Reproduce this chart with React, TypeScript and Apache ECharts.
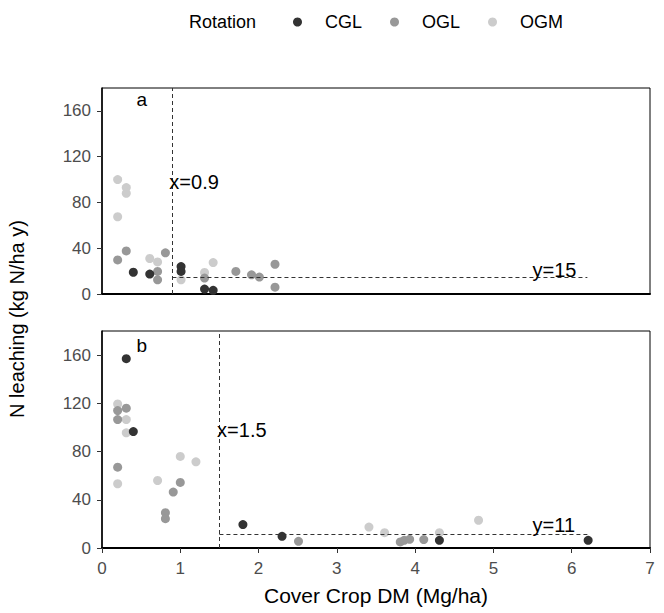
import React, { useEffect, useRef } from "react";
import * as echarts from "echarts";

// Data: [cover crop DM (Mg/ha), N leaching (kg N/ha y)]
const rotations = ["CGL", "OGL", "OGM"];
const colors: Record<string, string> = { CGL: "#333333", OGL: "#989898", OGM: "#CCCCCC" };

// Panel a
const cglA: [number, number][] = [
  [0.4, 19], [0.61, 17.4], [1.01, 24], [1.01, 19.7], [1.31, 4.3], [1.42, 3.2],
];
const oglA: [number, number][] = [
  [0.2, 29.8], [0.31, 37.6], [0.81, 36], [0.71, 19.7], [0.71, 12.4], [1.31, 13.9],
  [1.71, 19.7], [1.91, 16.8], [2.01, 14.8], [2.21, 26], [2.21, 6],
];
const ogmA: [number, number][] = [
  [0.2, 100], [0.31, 93], [0.31, 88], [0.2, 67.5], [0.61, 31], [0.71, 28],
  [1.01, 12.4], [1.31, 18.8], [1.42, 27.5],
];

// Panel b
const cglB: [number, number][] = [
  [0.31, 157], [0.4, 96.6], [1.8, 19.4], [2.3, 9.7], [4.31, 6.4], [6.21, 6.4],
];
const oglB: [number, number][] = [
  [0.31, 116], [0.2, 114], [0.2, 106.5], [0.2, 67], [1.0, 54.4], [0.91, 46.4],
  [0.81, 29.3], [0.81, 24.3], [2.51, 5.5], [3.81, 5], [3.86, 6.4], [3.93, 7.2], [4.11, 7],
];
const ogmB: [number, number][] = [
  [0.2, 119.5], [0.31, 106.5], [0.31, 95.5], [0.2, 53.3], [0.71, 56], [1.0, 76],
  [1.2, 71.5], [3.41, 17.4], [3.61, 12.7], [4.31, 12.7], [4.81, 23],
];

// Thresholds
const thresholdA = { x: 0.9, y: 15, xEnd: 6.2 };
const thresholdB = { x: 1.5, y: 11, xEnd: 6.2 };

const yTicks = [0, 40, 80, 120, 160];
const xTicks = [0, 1, 2, 3, 4, 5, 6, 7];

const FONT = "Liberation Sans, Arial, sans-serif";

export default function App() {
  const ref = useRef<HTMLDivElement>(null);
  useEffect(() => {
    if (!ref.current) return;
    const chart = echarts.init(ref.current, undefined, { renderer: "svg" });

    const panelData: Record<string, [number, number][]>[] = [
      { CGL: cglA, OGL: oglA, OGM: ogmA },
      { CGL: cglB, OGL: oglB, OGM: ogmB },
    ];
    const thresholds = [thresholdA, thresholdB];

    const series: any[] = [];
    [0, 1].forEach((p) => {
      ["OGM", "OGL", "CGL"].forEach((r) => {
        series.push({
          type: "scatter",
          name: r,
          xAxisIndex: p,
          yAxisIndex: p,
          data: panelData[p][r],
          symbol: "circle",
          symbolSize: 9,
          itemStyle: { color: colors[r], opacity: 1 },
          clip: false,
          z: 3,
        });
      });
      const t = thresholds[p];
      series.push({
        type: "scatter",
        name: "thr" + p,
        xAxisIndex: p,
        yAxisIndex: p,
        data: [],
        z: 2,
        markLine: {
          symbol: ["none", "none"],
          silent: true,
          label: { show: false },
          lineStyle: { color: "#333", type: [4, 3], width: 1 },
          data: [
            [{ coord: [t.x, 0] }, { coord: [t.x, 180] }],
            [{ coord: [t.x, t.y] }, { coord: [t.xEnd, t.y] }],
          ],
        },
        markPoint: {
          symbol: "circle",
          symbolSize: 0,
          silent: true,
          label: {
            show: true,
            position: "right",
            distance: 0,
            color: "#000",
            fontSize: 20,
            fontFamily: FONT,
          },
          data: [
            { coord: [p === 0 ? 0.86 : 1.47, 98], value: "x=" + t.x, label: { formatter: "x=" + t.x } },
            { coord: [5.5, p === 0 ? 21 : 19], value: "y=" + t.y, label: { formatter: "y=" + t.y } },
          ],
        },
      });
    });

    const yAxisCommon = (gi: number) => ({
      type: "value",
      gridIndex: gi,
      min: 0,
      max: 180,
      interval: 40,
      splitLine: { show: false },
      axisLine: { show: true, lineStyle: { color: "#000", width: 1.5 } },
      axisTick: { show: true, length: 5, lineStyle: { color: "#333" }, customValues: yTicks },
      axisLabel: { color: "#4D4D4D", fontSize: 17, fontFamily: FONT, margin: 11, customValues: yTicks },
    });

    chart.setOption({
      animation: false,
      textStyle: { fontFamily: FONT },
      legend: {
        data: rotations,
        left: 288,
        top: 8,
        icon: "circle",
        itemWidth: 9,
        itemHeight: 9,
        itemGap: 28,
        textStyle: { fontSize: 18, color: "#000", fontFamily: FONT, padding: [0, 0, 0, 18] },
        selectedMode: false,
      },
      grid: [
        { left: 102, top: 88, width: 548, height: 206, show: true, borderColor: "#000", borderWidth: 1 },
        { left: 102, top: 331, width: 548, height: 217, show: true, borderColor: "#000", borderWidth: 1 },
      ],
      xAxis: [
        {
          type: "value",
          gridIndex: 0,
          min: 0,
          max: 7,
          interval: 1,
          splitLine: { show: false },
          axisLine: { show: true, onZero: false, lineStyle: { color: "#000", width: 2 } },
          axisTick: { show: false },
          axisLabel: { show: false },
        },
        {
          type: "value",
          gridIndex: 1,
          min: 0,
          max: 7,
          interval: 1,
          splitLine: { show: false },
          axisLine: { show: true, onZero: false, lineStyle: { color: "#000", width: 2 } },
          axisTick: { show: true, length: 5, lineStyle: { color: "#333" }, customValues: xTicks },
          axisLabel: { color: "#4D4D4D", fontSize: 17, fontFamily: FONT, margin: 12, customValues: xTicks },
          name: "Cover Crop DM (Mg/ha)",
          nameLocation: "middle",
          nameGap: 37,
          nameTextStyle: { color: "#000", fontSize: 21, fontFamily: FONT },
        },
      ],
      yAxis: [yAxisCommon(0), yAxisCommon(1)],
      graphic: [
        {
          type: "text",
          x: 189,
          y: 22,
          style: { text: "Rotation", fontSize: 18, fill: "#000", fontFamily: FONT, verticalAlign: "middle" },
        },
        {
          type: "text",
          x: 141.7,
          y: 99.3,
          style: { text: "a", fontSize: 19, fill: "#000", fontFamily: FONT, align: "center", verticalAlign: "middle" },
        },
        {
          type: "text",
          x: 141.7,
          y: 345,
          style: { text: "b", fontSize: 19, fill: "#000", fontFamily: FONT, align: "center", verticalAlign: "middle" },
        },
        {
          type: "text",
          x: 17,
          y: 319,
          rotation: Math.PI / 2,
          style: {
            text: "N leaching (kg N/ha y)",
            fontSize: 20,
            fill: "#000",
            fontFamily: FONT,
            align: "center",
            verticalAlign: "middle",
          },
        },
      ],
      series,
    });
    return () => chart.dispose();
  }, []);
  return (
    <div
      ref={ref}
      style={{ position: "fixed", left: 0, top: 0, width: 664, height: 613, background: "#fff" }}
    />
  );
}
